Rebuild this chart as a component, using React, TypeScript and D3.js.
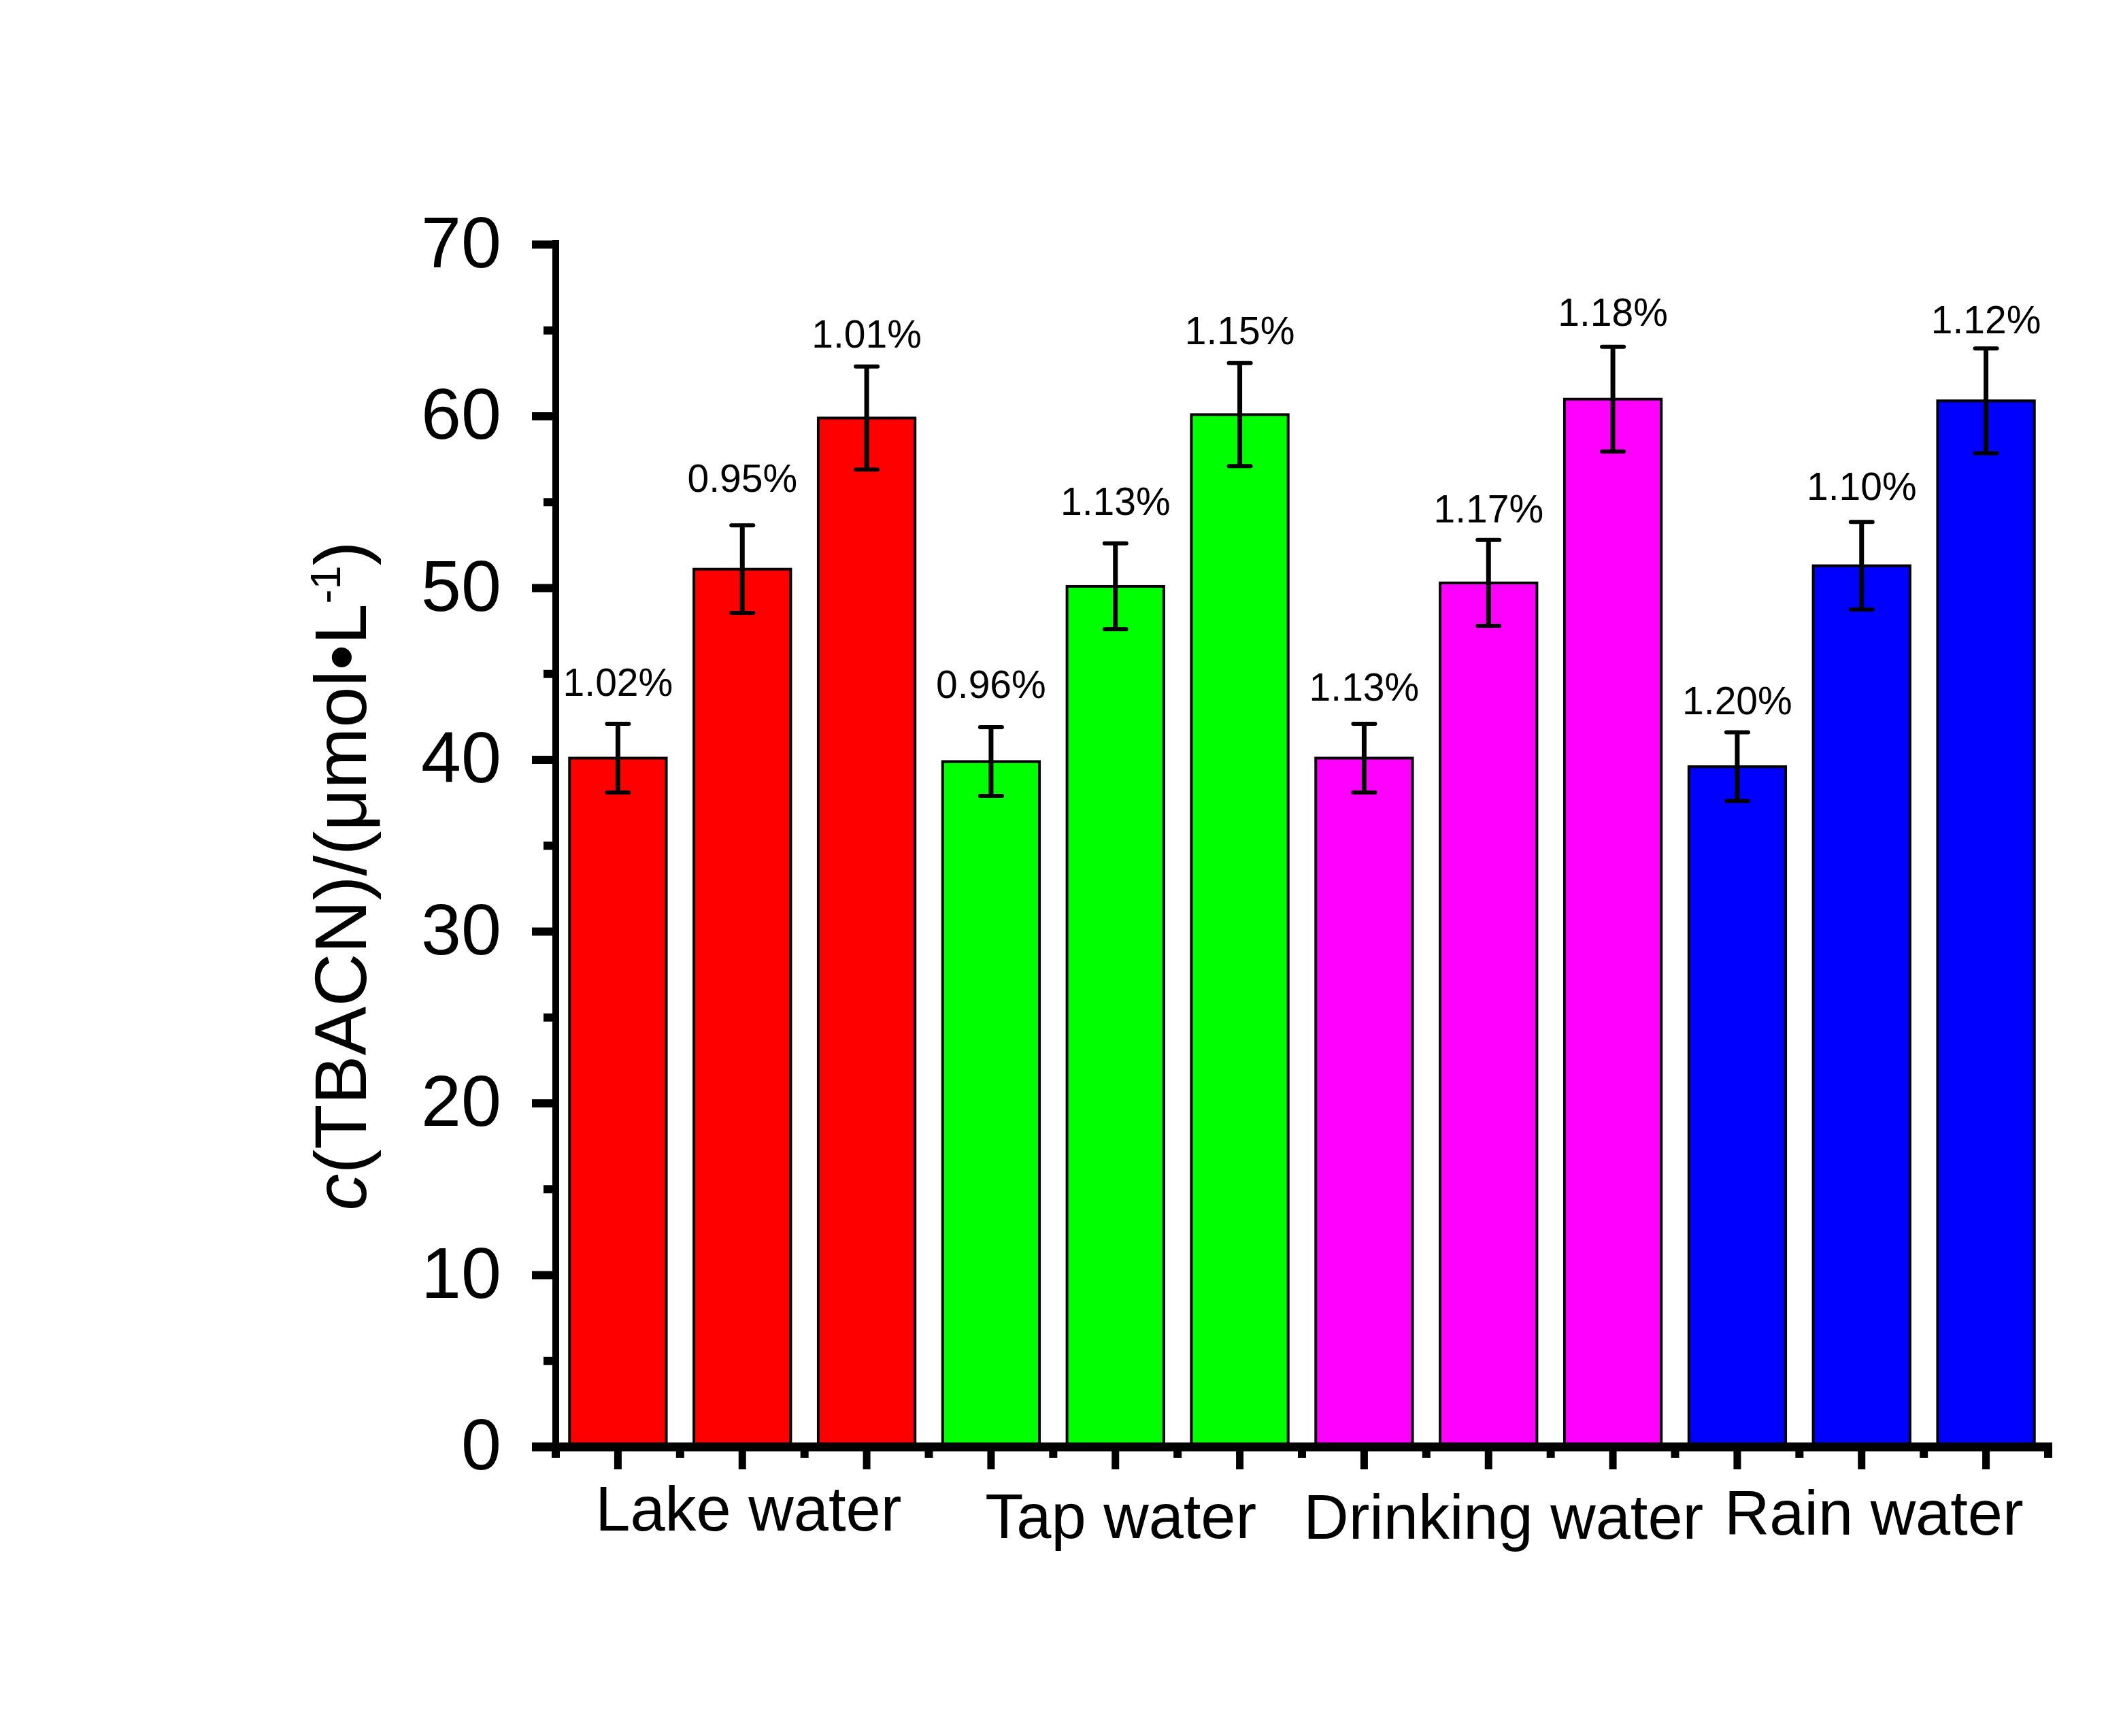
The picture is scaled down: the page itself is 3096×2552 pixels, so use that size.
import React from "react";
import * as d3 from "d3";

// ---- data ----
const categories = ["Lake water", "Tap water", "Drinking water", "Rain water"];
const groupColors = ["#FF0000", "#00FF00", "#FF00FF", "#0000FF"];
const lakeMeans = [40.1, 51.1, 59.9];
const tapMeans = [39.9, 50.1, 60.1];
const drinkingMeans = [40.1, 50.3, 61.0];
const rainMeans = [39.6, 51.3, 60.9];
const lakeErrors = [2.0, 2.55, 3.0];
const tapErrors = [2.0, 2.5, 3.0];
const drinkingErrors = [2.0, 2.5, 3.05];
const rainErrors = [2.0, 2.55, 3.05];
const lakeRsd = ["1.02%", "0.95%", "1.01%"];
const tapRsd = ["0.96%", "1.13%", "1.15%"];
const drinkingRsd = ["1.13%", "1.17%", "1.18%"];
const rainRsd = ["1.20%", "1.10%", "1.12%"];
const yMajorTicks = [0, 10, 20, 30, 40, 50, 60, 70];
const yMinorTicks = [5, 15, 25, 35, 45, 55, 65];

// ---- layout (pixels) ----
const W = 3096;
const H = 2552;
const X0 = 817;
const X1 = 3011;
const Y0 = 2127;
const Y70 = 359.5;
const labelGap = [41, 49, 28, 43, 42, 28, 34, 26, 31, 27, 32, 22];
const catNudge = [
  [9, 0],
  [8, 11],
  [22, 12],
  [18, 6],
];
const FONT = "'Liberation Sans', Arial, Helvetica, sans-serif";

const means = [lakeMeans, tapMeans, drinkingMeans, rainMeans];
const errors = [lakeErrors, tapErrors, drinkingErrors, rainErrors];
const rsds = [lakeRsd, tapRsd, drinkingRsd, rainRsd];

const bars = means.flatMap((grp, g) =>
  grp.map((v, j) => ({
    key: `${g}-${j}`,
    group: g,
    value: v,
    err: errors[g][j],
    rsd: rsds[g][j],
    color: groupColors[g],
  }))
);

export default function App() {
  const x = d3
    .scaleBand<number>()
    .domain(d3.range(bars.length))
    .range([X0, X1])
    .paddingInner(0.2)
    .paddingOuter(0.1);
  const y = d3.scaleLinear().domain([0, 70]).range([Y0, Y70]);
  const step = x.step();
  const bw = x.bandwidth();
  const cx = (i: number) => (x(i) as number) + bw / 2;
  const boundaries = d3.range(bars.length + 1).map((k) => X0 + k * step);

  return (
    <svg
      width={W}
      height={H}
      viewBox={`0 0 ${W} ${H}`}
      style={{ position: "absolute", left: 0, top: 0, background: "#fff" }}
      fontFamily={FONT}
    >
      <rect x={0} y={0} width={W} height={H} fill="#fff" />

      {/* bars */}
      {bars.map((b, i) => (
        <rect
          key={b.key}
          x={(x(i) as number) + 2}
          y={y(b.value)}
          width={bw - 4}
          height={y(0) - y(b.value)}
          fill={b.color}
          stroke="#000"
          strokeWidth={4}
        />
      ))}

      {/* error bars */}
      {bars.map((b, i) => {
        const c = cx(i);
        const top = y(b.value + b.err);
        const bot = y(b.value - b.err);
        return (
          <g key={"e" + b.key} stroke="#000" strokeLinecap="round">
            <line x1={c} x2={c} y1={top} y2={bot} strokeWidth={7} strokeLinecap="butt" />
            <line x1={c - 16} x2={c + 16} y1={top} y2={top} strokeWidth={6} />
            <line x1={c - 16} x2={c + 16} y1={bot} y2={bot} strokeWidth={6} />
          </g>
        );
      })}

      {/* RSD labels */}
      {bars.map((b, i) => (
        <text
          key={"l" + b.key}
          x={cx(i)}
          y={y(b.value + b.err) - labelGap[i]}
          textAnchor="middle"
          fontSize={57}
          fill="#000"
        >
          {b.rsd}
        </text>
      ))}

      {/* y axis */}
      <line x1={X0} x2={X0} y1={Y70 - 6.5} y2={Y0 + 6.5} stroke="#000" strokeWidth={10} />
      {yMajorTicks.map((t) => (
        <g key={"ym" + t}>
          <line x1={782} x2={X0} y1={y(t)} y2={y(t)} stroke="#000" strokeWidth={12} />
          <text x={737} y={y(t) + 33} textAnchor="end" fontSize={106} fill="#000">
            {t}
          </text>
        </g>
      ))}
      {yMinorTicks.map((t) => (
        <line key={"yn" + t} x1={799} x2={X0} y1={y(t)} y2={y(t)} stroke="#000" strokeWidth={12} />
      ))}

      {/* x axis */}
      <line x1={782} x2={3017} y1={Y0} y2={Y0} stroke="#000" strokeWidth={13} />
      {bars.map((b, i) => (
        <line key={"xm" + b.key} x1={cx(i)} x2={cx(i)} y1={Y0} y2={2160} stroke="#000" strokeWidth={11} />
      ))}
      {boundaries.map((bx, k) => (
        <line key={"xn" + k} x1={bx} x2={bx} y1={Y0} y2={2143} stroke="#000" strokeWidth={12} />
      ))}

      {/* category labels */}
      {categories.map((c, g) => (
        <text
          key={c}
          x={cx(g * 3 + 1) + catNudge[g][0]}
          y={2250 + catNudge[g][1]}
          textAnchor="middle"
          fontSize={92}
          fill="#000"
        >
          {c}
        </text>
      ))}

      {/* y axis title */}
      <text
        transform="translate(538, 1287.5) rotate(-90)"
        textAnchor="middle"
        fontSize={108}
        fill="#000"
      >
        <tspan fontStyle="italic">c</tspan>
        <tspan>(TBACN)/(μmol•L</tspan>
        <tspan fontSize={63} dy={-38}>
          -1
        </tspan>
        <tspan dy={38}>)</tspan>
      </text>
    </svg>
  );
}
